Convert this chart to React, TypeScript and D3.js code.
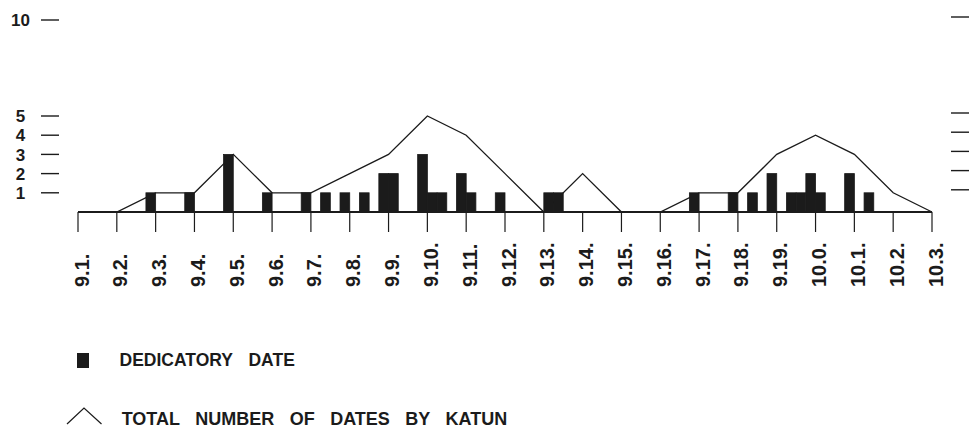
import React from "react";
import * as d3 from "d3";

// Katun tick labels (x axis)
const katunLabels = [
  "9.1.", "9.2.", "9.3.", "9.4.", "9.5.", "9.6.", "9.7.", "9.8.", "9.9.", "9.10.",
  "9.11.", "9.12.", "9.13.", "9.14.", "9.15.", "9.16.", "9.17.", "9.18.", "9.19.",
  "10.0.", "10.1.", "10.2.", "10.3.",
];

// Total number of dates by katun (line)
const totalByKatun = [0, 0, 1, 1, 3, 1, 1, 2, 3, 5, 4, 2, 0, 2, 0, 0, 1, 1, 3, 4, 3, 1, 0];

// Dedicatory dates (hotun start, baktun.katun.tun) and their counts (bars)
const dedicatoryDates = [
  "9.2.15", "9.3.15", "9.4.15", "9.5.15", "9.6.15", "9.7.5", "9.7.15", "9.8.5",
  "9.8.15", "9.9.0", "9.9.15", "9.10.0", "9.10.5", "9.10.15", "9.11.0", "9.11.15",
  "9.13.0", "9.13.5", "9.16.15", "9.17.15", "9.18.5", "9.18.15", "9.19.5", "9.19.10",
  "9.19.15", "10.0.0", "10.0.15", "10.1.5",
];
const dedicatoryCounts = [
  1, 1, 3, 1, 1, 1, 1, 1,
  2, 2, 3, 1, 1, 2, 1, 1,
  1, 1, 1, 1, 1, 2, 1, 1,
  2, 1, 2, 1,
];

// Y axis ticks
const yTicks = [1, 2, 3, 4, 5, 10];

const legendLabels = ["DEDICATORY DATE", "TOTAL NUMBER OF DATES BY KATUN"];

const FONT = "'Liberation Sans', Arial, Helvetica, sans-serif";
const INK = "#1b1b1b";

function katunPos(date: string): number {
  const [b, k, t] = date.split(".").map(Number);
  return (b - 9) * 20 + (k - 1) + t / 20;
}

export default function App() {
  const W = 969;
  const H = 428;
  const x = d3.scaleLinear().domain([0, katunLabels.length - 1]).range([78, 932]);
  const y = d3.scaleLinear().domain([0, 10]).range([212, 20]);

  const line = d3
    .line<number>()
    .x((_, i) => x(i))
    .y((d) => y(d));

  const hotun = 0.25;

  return (
    <svg
      width={W}
      height={H}
      viewBox={`0 0 ${W} ${H}`}
      style={{ position: "absolute", left: 0, top: 0, background: "#fff" }}
      fontFamily={FONT}
    >
      <rect x={0} y={0} width={W} height={H} fill="#fff" />

      {/* y ticks left and right */}
      {yTicks.map((t) => (
        <g key={"yt" + t}>
          <line x1={41} x2={59} y1={y(t)} y2={y(t)} stroke={INK} strokeWidth={1.4} />
          <line x1={951} x2={969} y1={y(t) - 3} y2={y(t) - 3} stroke={INK} strokeWidth={1.4} />
          <text
            x={20.5}
            y={y(t)}
            dy="0.36em"
            textAnchor="middle"
            fontSize={17}
            fontWeight="bold"
            fill={INK}
          >
            {t}
          </text>
        </g>
      ))}

      {/* total line */}
      <path d={line(totalByKatun) ?? ""} fill="none" stroke={INK} strokeWidth={1.3} strokeLinejoin="miter" />

      {/* bars */}
      {dedicatoryDates.map((d, i) => {
        const p = katunPos(d);
        const x0 = x(p);
        const x1 = x(p + hotun);
        return (
          <rect
            key={"b" + i}
            x={x0}
            y={y(dedicatoryCounts[i])}
            width={x1 - x0}
            height={y(0) - y(dedicatoryCounts[i])}
            fill={INK}
            stroke={INK}
            strokeWidth={0.8}
          />
        );
      })}

      {/* x axis baseline */}
      <line x1={x(0)} x2={x(katunLabels.length - 1)} y1={y(0)} y2={y(0)} stroke={INK} strokeWidth={2} />

      {/* x ticks and labels */}
      {katunLabels.map((lab, i) => (
        <g key={"xt" + i}>
          <line x1={x(i)} x2={x(i)} y1={y(0)} y2={y(0) + 20} stroke={INK} strokeWidth={1.2} />
          <text
            transform={`translate(${x(i) + 3.3},287) rotate(-90)`}
            dy="0.36em"
            textAnchor="start"
            fontSize={20}
            fontWeight="bold"
            fill={INK}
          >
            {lab}
          </text>
        </g>
      ))}

      {/* legend */}
      <rect x={77} y={353} width={12} height={15} fill={INK} />
      <text x={119.5} y={366} fontSize={17.5} fontWeight="bold" fill={INK} wordSpacing={11}>
        {legendLabels[0]}
      </text>
      <polyline
        points="67,424 84,408 101.5,424"
        fill="none"
        stroke={INK}
        strokeWidth={1.2}
      />
      <text x={121.7} y={424.5} fontSize={18} fontWeight="bold" fill={INK} wordSpacing={10.5}>
        {legendLabels[1]}
      </text>
    </svg>
  );
}
